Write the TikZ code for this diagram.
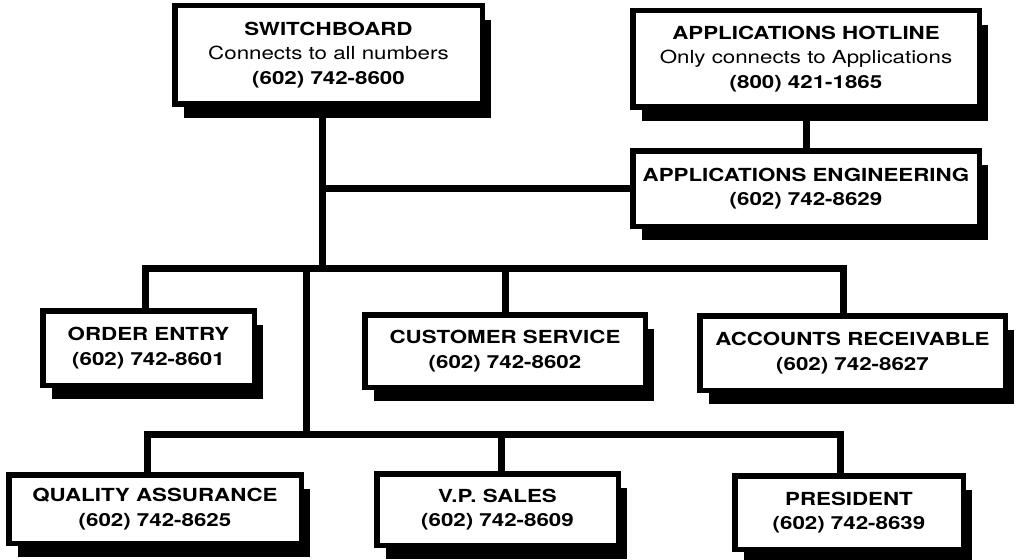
\documentclass[tikz,border=0pt]{standalone}
\usepackage{fontspec}
\setmainfont{TeX Gyre Heros}[FakeStretch=1.24]
\usepackage{tikz}
\usetikzlibrary{positioning,backgrounds,shadows}

\begin{document}
\begin{tikzpicture}[x=1pt, y=-1pt,
    every node/.style={font=\fontsize{18}{24.5}\selectfont, align=center},
    boite/.style={draw, line width=5.5pt, fill=white, inner sep=0pt,
        drop shadow={shadow xshift=9pt, shadow yshift=-14pt, fill=black, opacity=1}},
    liaison/.style={line width=7pt, line cap=rect, line join=miter}]
    \useasboundingbox (0,0) rectangle (1019,559);

    % Standard et ligne directe
    \node[boite, minimum width=307.5pt, minimum height=98.5pt] (sw) at (328.5,55)
        {\textbf{SWITCHBOARD}\\Connects to all numbers\\\textbf{(602) 742-8600}};
    \node[boite, minimum width=346.5pt, minimum height=96.5pt] (hot) at (806,59)
        {\textbf{APPLICATIONS HOTLINE}\\Only connects to Applications\\\textbf{(800) 421-1865}};
    \node[boite, minimum width=346.5pt, minimum height=75.5pt] (ae) at (806,188.5)
        {\textbf{APPLICATIONS ENGINEERING}\\\textbf{(602) 742-8629}};

    % Rangée du milieu
    \node[boite, minimum width=211.5pt, minimum height=74.5pt] (oe) at (148.5,348)
        {\textbf{ORDER ENTRY}\\\textbf{(602) 742-8601}};
    \node[boite, minimum width=280.5pt, minimum height=72.5pt] (cs) at (505,351)
        {\textbf{CUSTOMER SERVICE}\\\textbf{(602) 742-8602}};
    \node[boite, minimum width=305.5pt, minimum height=74.5pt] (ar) at (852.5,353)
        {\textbf{ACCOUNTS RECEIVABLE}\\\textbf{(602) 742-8627}};

    % Rangée du bas
    \node[boite, minimum width=292.5pt, minimum height=68.5pt] (qa) at (155,509)
        {\textbf{QUALITY ASSURANCE}\\\textbf{(602) 742-8625}};
    \node[boite, minimum width=241.5pt, minimum height=71.5pt] (vp) at (497.5,509.5)
        {\textbf{V.P. SALES}\\\textbf{(602) 742-8609}};
    \node[boite, minimum width=228.5pt, minimum height=73.5pt] (pr) at (849,512.5)
        {\textbf{PRESIDENT}\\\textbf{(602) 742-8639}};

    % Points de jonction
    \coordinate (up) at (322,268);
    \coordinate (lo) at (306,268);
    \coordinate (b1) at (145,268);
    \coordinate (b3) at (843,268);
    \coordinate (c1) at (147,434);
    \coordinate (c2) at (501,434);
    \coordinate (c3) at (840,434);

    % Liaisons
    \begin{scope}[on background layer]
        \draw[liaison] (sw.south -| up) -- (up);
        \draw[liaison] (ae.west) -- (ae.west -| up);
        \draw[liaison] (hot.south) -- (ae.north);
        \draw[liaison] (oe.north -| b1) -- (b1) -- (b3) -- (ar.north -| b3);
        \draw[liaison] (cs.north) -- (cs.north |- b1);
        \draw[liaison] (lo) -- (lo |- c1);
        \draw[liaison] (qa.north -| c1) -- (c1) -- (c3) -- (pr.north -| c3);
        \draw[liaison] (c2) -- (c2 |- vp.north);
    \end{scope}
\end{tikzpicture}
\end{document}
